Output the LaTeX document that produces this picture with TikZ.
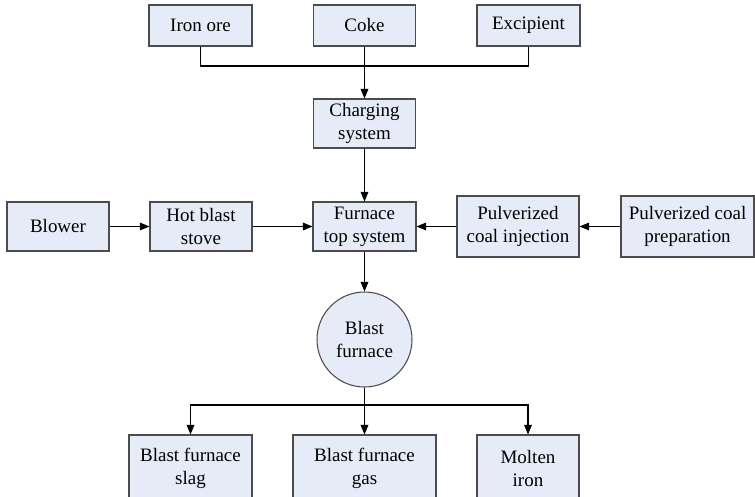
\documentclass[tikz,border=0pt]{standalone}
\usepackage{fontspec}
\setmainfont{Liberation Serif}
\usetikzlibrary{arrows.meta, positioning}
\definecolor{plantblue}{HTML}{E6ECF7}

\begin{document}
\begin{tikzpicture}[
    >={Triangle[length=5.5pt, width=4.4pt]}, line width=0.6pt,
    unit/.style={draw=black!70, fill=plantblue, align=center,
                 inner sep=0pt, minimum width=2.04cm, minimum height=0.98cm,
                 font=\fontsize{10.8}{13}\selectfont},
    feed/.style={unit, minimum height=0.82cm},
    product/.style={unit, minimum height=1.34cm}
  ]
  \useasboundingbox (0,0) rectangle (15.1,-9.92);

  % raw materials
  \node[feed, minimum width=2.06cm] (iron) at (4.01,-0.51) {Iron ore};
  \node[feed] (coke) at (7.29,-0.51) {Coke};
  \node[feed, minimum width=2.06cm] (excip) at (10.57,-0.51) {Excipient};
  \node[unit] (charge) at (7.29,-2.47) {Charging\\system};

  % middle row
  \node[unit] (blower) at (1.16,-4.53) {Blower};
  \node[unit] (stove) at (4.02,-4.53) {Hot blast\\stove};
  \node[unit, minimum width=2.06cm] (top) at (7.29,-4.53) {Furnace\\top system};
  \node[unit, minimum width=2.44cm, minimum height=1.22cm] (pci)
    at (10.36,-4.53) {Pulverized\\coal injection};
  \node[unit, minimum width=2.66cm, minimum height=1.22cm] (prep)
    at (13.75,-4.53) {Pulverized coal\\preparation};

  \node[draw=black!70, fill=plantblue, circle, minimum size=1.9cm,
        inner sep=0pt, align=center, font=\fontsize{10.8}{13}\selectfont]
    (bf) at (7.29,-6.79) {Blast\\furnace};

  % outputs (run off the lower edge)
  \node[product, minimum width=2.46cm] (slag) at (3.81,-9.37)
    {Blast furnace\\slag};
  \node[product, minimum width=2.86cm] (gas) at (7.29,-9.37)
    {Blast furnace\\gas};
  \node[product] (iron out) at (10.56,-9.37) {Molten\\iron};

  \coordinate (merge) at (7.29,-1.32);
  \coordinate (split) at (7.29,-8.10);

  \draw (iron.south) |- (merge) -| (excip.south);
  \draw[->] (coke) -- (charge);
  \draw[->] (charge) -- (top);
  \draw[->] (blower) -- (stove);
  \draw[->] (stove) -- (top);
  \draw[->] (prep) -- (pci);
  \draw[->] (pci) -- (top);
  \draw[->] (top) -- (bf);
  \draw[->] (bf) -- (gas);
  \draw[->] (split) -| (slag.north);
  \draw[->] (split) -| (iron out.north);
\end{tikzpicture}
\end{document}
